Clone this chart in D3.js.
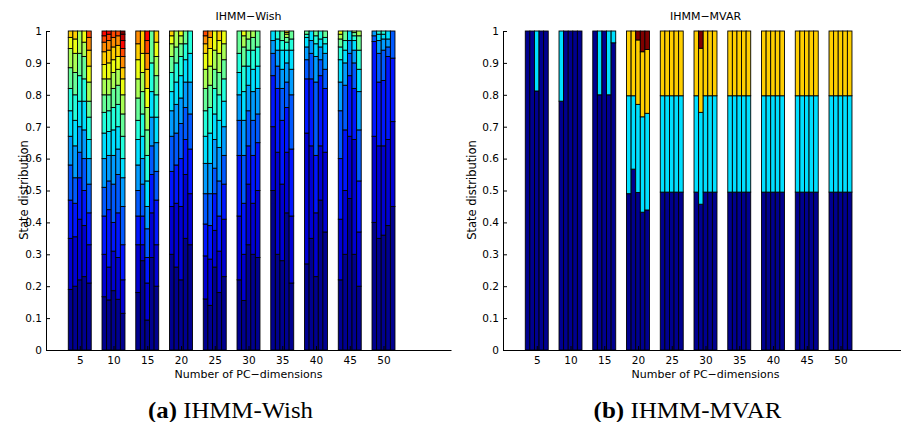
<!DOCTYPE html>
<html>
<head>
<meta charset="utf-8">
<script src="https://cdn.jsdelivr.net/npm/d3@7"></script>
<style>
  body { margin: 0; background: #fff; }
  svg text { font-family: "DejaVu Sans", sans-serif; fill: #000; }
</style>
</head>
<body>
<svg id="chart" width="901" height="422"></svg>
<script>
const dims = [5, 10, 15, 20, 25, 30, 35, 40, 45, 50];
const yTicks = [0, 0.1, 0.2, 0.3, 0.4, 0.5, 0.6, 0.7, 0.8, 0.9, 1];
const yTickLabels = ["0", "0.1", "0.2", "0.3", "0.4", "0.5", "0.6", "0.7", "0.8", "0.9", "1"];

// IHMM-Wish: top of each stacked state, 5 runs per dimension (16 states max)
const wish5 = [
  [0.19, 0.35, 0.47, 0.58, 0.67, 0.75, 0.82, 0.885, 0.945, 0.98, 1],
  [0.2, 0.355, 0.46, 0.54, 0.64, 0.72, 0.8, 0.87, 0.93, 0.975, 1],
  [0.22, 0.41, 0.54, 0.62, 0.7, 0.78, 0.86, 0.93, 1],
  [0.23, 0.39, 0.5, 0.6, 0.69, 0.78, 0.85, 0.92, 0.965, 1],
  [0.21, 0.33, 0.43, 0.52, 0.6, 0.66, 0.73, 0.78, 0.84, 0.89, 0.94, 0.98, 1]
];
const wish10 = [
  [0.167, 0.3, 0.42, 0.51, 0.6, 0.68, 0.745, 0.8, 0.85, 0.895, 0.935, 0.965, 0.985, 1],
  [0.157, 0.26, 0.44, 0.53, 0.61, 0.685, 0.75, 0.8, 0.85, 0.9, 0.94, 0.97, 0.99, 1],
  [0.186, 0.31, 0.4, 0.52, 0.61, 0.69, 0.76, 0.82, 0.87, 0.91, 0.95, 0.98, 1],
  [0.159, 0.29, 0.43, 0.55, 0.63, 0.7, 0.77, 0.83, 0.88, 0.92, 0.955, 0.985, 1],
  [0.115, 0.22, 0.33, 0.45, 0.54, 0.6, 0.67, 0.74, 0.8, 0.85, 0.885, 0.92, 0.945, 0.97, 0.99, 1]
];
const wish15 = [
  [0.18, 0.33, 0.42, 0.5, 0.58, 0.66, 0.72, 0.79, 0.85, 0.91, 0.96, 1],
  [0.28, 0.33, 0.42, 0.52, 0.6, 0.67, 0.74, 0.81, 0.87, 0.93, 1],
  [0.094, 0.21, 0.29, 0.38, 0.45, 0.53, 0.61, 0.69, 0.76, 0.82, 0.88, 0.93, 0.97, 1],
  [0.29, 0.43, 0.55, 0.64, 0.73, 0.81, 0.9, 1],
  [0.2, 0.33, 0.47, 0.56, 0.65, 0.73, 0.8, 0.86, 0.92, 0.965, 1]
];
const wish20 = [
  [0.3, 0.45, 0.56, 0.67, 0.75, 0.81, 0.87, 0.92, 0.96, 0.985, 1],
  [0.26, 0.46, 0.58, 0.68, 0.77, 0.84, 0.9, 0.95, 1],
  [0.22, 0.45, 0.6, 0.71, 0.79, 0.86, 0.92, 0.96, 0.985, 1],
  [0.35, 0.55, 0.66, 0.76, 0.84, 0.91, 0.96, 1],
  [0.33, 0.49, 0.63, 0.74, 0.84, 0.93, 1]
];
const wish25 = [
  [0.16, 0.295, 0.395, 0.49, 0.585, 0.67, 0.75, 0.82, 0.88, 0.93, 0.96, 0.985, 1],
  [0.14, 0.285, 0.39, 0.49, 0.585, 0.68, 0.76, 0.83, 0.89, 0.945, 0.98, 1],
  [0.26, 0.375, 0.49, 0.57, 0.66, 0.74, 0.82, 0.88, 0.94, 1],
  [0.18, 0.31, 0.42, 0.53, 0.635, 0.72, 0.8, 0.87, 0.93, 0.97, 1],
  [0.23, 0.41, 0.52, 0.61, 0.7, 0.78, 0.85, 0.91, 0.96, 1]
];
const wish30 = [
  [0.22, 0.42, 0.61, 0.72, 0.8, 0.87, 0.93, 1],
  [0.155, 0.3, 0.46, 0.61, 0.72, 0.81, 0.89, 0.95, 0.985, 1],
  [0.33, 0.52, 0.64, 0.75, 0.83, 0.89, 0.94, 0.975, 1],
  [0.3, 0.46, 0.61, 0.72, 0.81, 0.88, 0.94, 0.98, 1],
  [0.29, 0.5, 0.65, 0.74, 0.82, 0.89, 0.95, 1]
];
const wish35 = [
  [0.5, 0.7, 0.86, 0.93, 0.97, 1],
  [0.3, 0.62, 0.82, 0.89, 0.94, 0.975, 1],
  [0.28, 0.52, 0.72, 0.82, 0.88, 0.94, 0.97, 1],
  [0.43, 0.62, 0.76, 0.84, 0.9, 0.94, 0.965, 0.98, 0.99, 0.995, 1],
  [0.21, 0.42, 0.63, 0.8, 0.88, 0.94, 0.975, 1]
];
const wish40 = [
  [0.27, 0.68, 0.85, 0.91, 0.95, 0.98, 0.99, 1],
  [0.35, 0.64, 0.85, 0.93, 0.97, 1],
  [0.23, 0.43, 0.61, 0.84, 0.92, 0.96, 0.985, 1],
  [0.47, 0.64, 0.86, 0.91, 0.95, 0.975, 1],
  [0.37, 0.62, 0.82, 0.88, 0.93, 0.96, 0.98, 1]
];
const wish45 = [
  [0.22, 0.41, 0.6, 0.75, 0.84, 0.91, 0.95, 0.975, 0.99, 1],
  [0.3, 0.5, 0.69, 0.83, 0.9, 0.94, 0.97, 1],
  [0.475, 0.67, 0.86, 0.93, 0.97, 1],
  [0.3, 0.66, 0.82, 0.9, 0.94, 0.97, 0.985, 0.995, 1],
  [0.2, 0.37, 0.53, 0.69, 0.81, 0.88, 0.94, 0.985, 1]
];
const wish50 = [
  [0.4, 0.67, 0.967, 0.985, 1],
  [0.35, 0.64, 0.84, 0.93, 0.97, 0.99, 1],
  [0.36, 0.64, 0.845, 0.94, 0.975, 0.99, 1],
  [0.39, 0.66, 0.92, 0.95, 0.975, 1],
  [0.45, 0.716, 0.915, 1]
];
const wishBars = [wish5, wish10, wish15, wish20, wish25, wish30, wish35, wish40, wish45, wish50];

// IHMM-MVAR: tops of the 4 states
const mvar5 = [[1, 1, 1, 1], [1, 1, 1, 1], [0.812, 1, 1, 1], [1, 1, 1, 1], [1, 1, 1, 1]];
const mvar10 = [[0.78, 1, 1, 1], [1, 1, 1, 1], [1, 1, 1, 1], [1, 1, 1, 1], [1, 1, 1, 1]];
const mvar15 = [[1, 1, 1, 1], [0.8, 1, 1, 1], [1, 1, 1, 1], [0.8, 1, 1, 1], [0.963, 1, 1, 1]];
const mvar20 = [
  [0.49, 0.797, 1, 1], [0.567, 0.797, 1, 1], [0.494, 0.77, 0.972, 1],
  [0.432, 0.731, 0.935, 1], [0.439, 0.742, 0.942, 1]
];
const mvar25 = [[0.495, 0.797, 1, 1], [0.495, 0.797, 1, 1], [0.495, 0.797, 1, 1], [0.495, 0.797, 1, 1], [0.495, 0.797, 1, 1]];
const mvar30 = [[0.495, 0.797, 1, 1], [0.457, 0.745, 0.946, 1], [0.495, 0.797, 1, 1], [0.495, 0.797, 1, 1], [0.495, 0.797, 1, 1]];
const mvar35 = [[0.495, 0.797, 1, 1], [0.495, 0.797, 1, 1], [0.495, 0.797, 1, 1], [0.495, 0.797, 1, 1], [0.495, 0.797, 1, 1]];
const mvar40 = [[0.495, 0.797, 1, 1], [0.495, 0.797, 1, 1], [0.495, 0.797, 1, 1], [0.495, 0.797, 1, 1], [0.495, 0.797, 1, 1]];
const mvar45 = [[0.495, 0.797, 1, 1], [0.495, 0.797, 1, 1], [0.495, 0.797, 1, 1], [0.495, 0.797, 1, 1], [0.495, 0.797, 1, 1]];
const mvar50 = [[0.495, 0.797, 1, 1], [0.495, 0.797, 1, 1], [0.495, 0.797, 1, 1], [0.495, 0.797, 1, 1], [0.495, 0.797, 1, 1]];
const mvarBars = [mvar5, mvar10, mvar15, mvar20, mvar25, mvar30, mvar35, mvar40, mvar45, mvar50];

// jet colormap, sampled like matlab's jet(64)
function jet(t) {
  const c = (v) => Math.max(0, Math.min(1, v)) * 255;
  const s = (1 + t * 63) / 64;
  return d3.rgb(c(1.5 - Math.abs(4 * s - 3)), c(1.5 - Math.abs(4 * s - 2)), c(1.5 - Math.abs(4 * s - 1)));
}

const svg = d3.select("#chart");
const plotTop = 31, plotBottom = 350;

function drawPanel(o) {
  const x = d3.scaleLinear().domain([0, 60]).range([o.left, o.left + 405]);
  const y = d3.scaleLinear().domain([0, 1]).range([plotBottom, plotTop]);
  const inner = d3.scaleBand().domain(d3.range(5)).range([-1.7, 1.7]);
  const bw = x(inner.bandwidth()) - x(0);
  const color = (k) => jet(k / (o.nStates - 1));

  const g = svg.append("g");

  o.bars.forEach((group, gi) => {
    group.forEach((tops, bi) => {
      const x0 = x(dims[gi] + inner(bi));
      tops.forEach((t, k) => {
        const prev = k === 0 ? 0 : tops[k - 1];
        if (t - prev <= 0) return;
        g.append("rect")
          .attr("x", x0)
          .attr("y", y(t))
          .attr("width", bw)
          .attr("height", y(prev) - y(t))
          .attr("fill", color(k))
          .attr("stroke", "#000")
          .attr("stroke-width", 0.9);
      });
    });
  });

  const yAxis = d3.axisLeft(y)
    .tickValues(yTicks)
    .tickFormat((d, i) => yTickLabels[i])
    .tickSizeInner(-4)
    .tickSizeOuter(0)
    .tickPadding(4);
  const gy = svg.append("g")
    .attr("transform", `translate(${o.left},0)`)
    .call(yAxis);

  const xAxis = d3.axisBottom(x)
    .tickValues(dims)
    .tickSizeInner(-4)
    .tickSizeOuter(0)
    .tickPadding(7);
  const gx = svg.append("g")
    .attr("transform", `translate(0,${plotBottom})`)
    .call(xAxis);

  [gx, gy].forEach((a) => {
    a.attr("font-family", "DejaVu Sans").attr("font-size", 10.5);
    a.select(".domain").attr("stroke", "#000");
  });

  const cx = o.left + 202.5;
  svg.append("text")
    .attr("x", cx)
    .attr("y", 20)
    .attr("text-anchor", "middle")
    .style("font-size", "11px")
    .text(o.title);

  svg.append("text")
    .attr("x", cx)
    .attr("y", 378)
    .attr("text-anchor", "middle")
    .style("font-size", "11px")
    .text("Number of PC\u2212dimensions");

  svg.append("text")
    .attr("transform", `translate(${o.ylabelX},190) rotate(-90)`)
    .attr("text-anchor", "middle")
    .style("font-size", "11.5px")
    .text("State distribution");

  // caption under each panel, fitted to the width it has in the figure
  const cap = svg.append("text")
    .attr("text-anchor", "middle")
    .style("font-family", '"Liberation Serif", serif')
    .style("font-size", "23px");
  cap.append("tspan").style("font-weight", "bold").text(o.tag);
  cap.append("tspan").text(" " + o.caption);
  const w = cap.node().getComputedTextLength();
  cap.attr("transform", `translate(${o.capX},418) scale(${o.capW / w},1)`);
}

drawPanel({
  left: 46, bars: wishBars, nStates: 16, title: "IHMM\u2212Wish",
  ylabelX: 28, tag: "(a)", caption: "IHMM-Wish", capX: 230.5, capW: 165
});
drawPanel({
  left: 503, bars: mvarBars, nStates: 4, title: "IHMM\u2212MVAR",
  ylabelX: 476, tag: "(b)", caption: "IHMM-MVAR", capX: 687.5, capW: 188
});
</script>
</body>
</html>
